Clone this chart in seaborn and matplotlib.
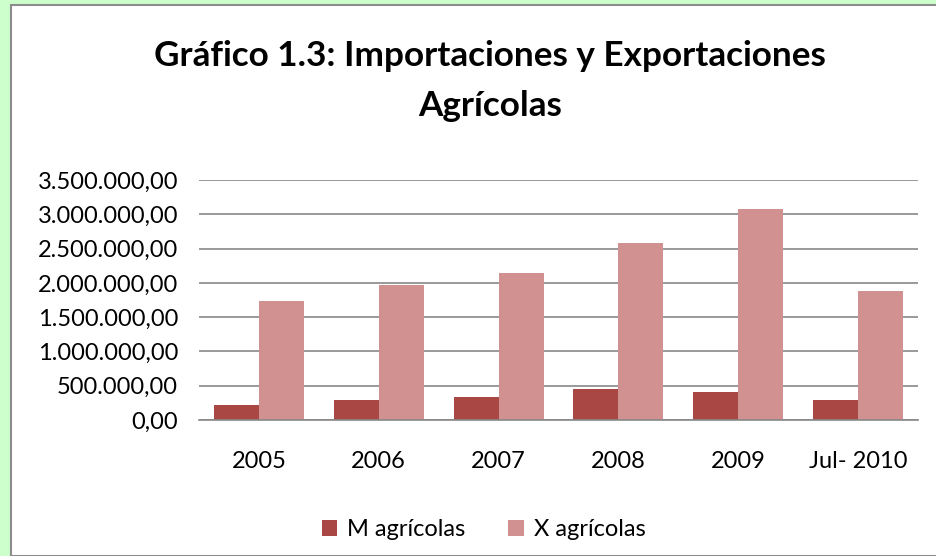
import pandas as pd
import numpy as np
import seaborn as sns
import matplotlib.pyplot as plt
from matplotlib.patches import Rectangle
from matplotlib.ticker import FuncFormatter, MultipleLocator

# --- Data ---
periods = ['2005', '2006', '2007', '2008', '2009', 'Jul- 2010']
m_agricolas = [220000, 292000, 335000, 452000, 408000, 292000]
x_agricolas = [1735000, 1969000, 2144000, 2581000, 3077000, 1881000]
series_names = ['M agrícolas', 'X agrícolas']
colors = ['#A94744', '#D19190']

df = pd.DataFrame({
    'Periodo': periods * 2,
    'Valor': m_agricolas + x_agricolas,
    'Serie': [series_names[0]] * len(periods) + [series_names[1]] * len(periods),
})

sns.set_style('white')
plt.rcParams['font.family'] = ['Lato', 'DejaVu Sans']
plt.rcParams['text.color'] = 'black'
plt.rcParams['xtick.color'] = 'black'
plt.rcParams['ytick.color'] = 'black'

fig = plt.figure(figsize=(9.37, 5.56), dpi=100)
fig.patch.set_facecolor('#CCFFCC')

# white chart area with gray frame, like the spreadsheet chart object
W, H = 937, 556
fig.patches.append(Rectangle((11 / W, 0), 1, 1 - 5 / H, transform=fig.transFigure,
                             facecolor='white', edgecolor='#8C8C8C', linewidth=1.5, zorder=-10))

ax = fig.add_axes([199 / W, 1 - 420 / H, (918 - 199) / W, 240 / H])
ax.set_facecolor('none')
sns.barplot(data=df, x='Periodo', y='Valor', hue='Serie', palette=colors,
            width=0.75, saturation=1, linewidth=0, ax=ax, legend=True)

ax.set_ylim(0, 3500000)
ax.yaxis.set_major_locator(MultipleLocator(500000))


def es_format(v, pos):
    s = f'{v:,.2f}'
    return s.replace(',', 'X').replace('.', ',').replace('X', '.')


ax.yaxis.set_major_formatter(FuncFormatter(es_format))
ax.grid(axis='y', color='#888888', linewidth=1.2)
ax.set_axisbelow(True)
for side in ['top', 'right', 'left']:
    ax.spines[side].set_visible(False)
ax.spines['bottom'].set_color('#888888')
ax.spines['bottom'].set_linewidth(1.2)

ax.set_xlim(-0.5, len(periods) - 0.5)
ax.set_xticks(np.arange(len(periods)))
ax.set_xticklabels(periods)
ax.set_xticks(np.arange(len(periods) + 1) - 0.5, minor=True)
ax.tick_params(axis='x', which='major', length=0, pad=22, labelsize=17)
ax.tick_params(axis='x', which='minor', length=7, width=1.2, color='#888888')
ax.tick_params(axis='y', length=0, pad=15, labelsize=17)
ax.set_xlabel('')
ax.set_ylabel('')

leg = ax.legend(loc='center', bbox_to_anchor=(0.396, -0.458), ncol=2, frameon=False,
                fontsize=17, handlelength=0.65, handleheight=0.65, columnspacing=1.8,
                handletextpad=0.45)

fig.text(490 / W, 1 - 56 / H, 'Gráfico 1.3: Importaciones y Exportaciones',
         ha='center', va='center', fontsize=25.3, fontweight='bold')
fig.text(490 / W, 1 - 106 / H, 'Agrícolas',
         ha='center', va='center', fontsize=25.3, fontweight='bold')

fig.savefig('out.png', dpi=100, facecolor=fig.get_facecolor())
